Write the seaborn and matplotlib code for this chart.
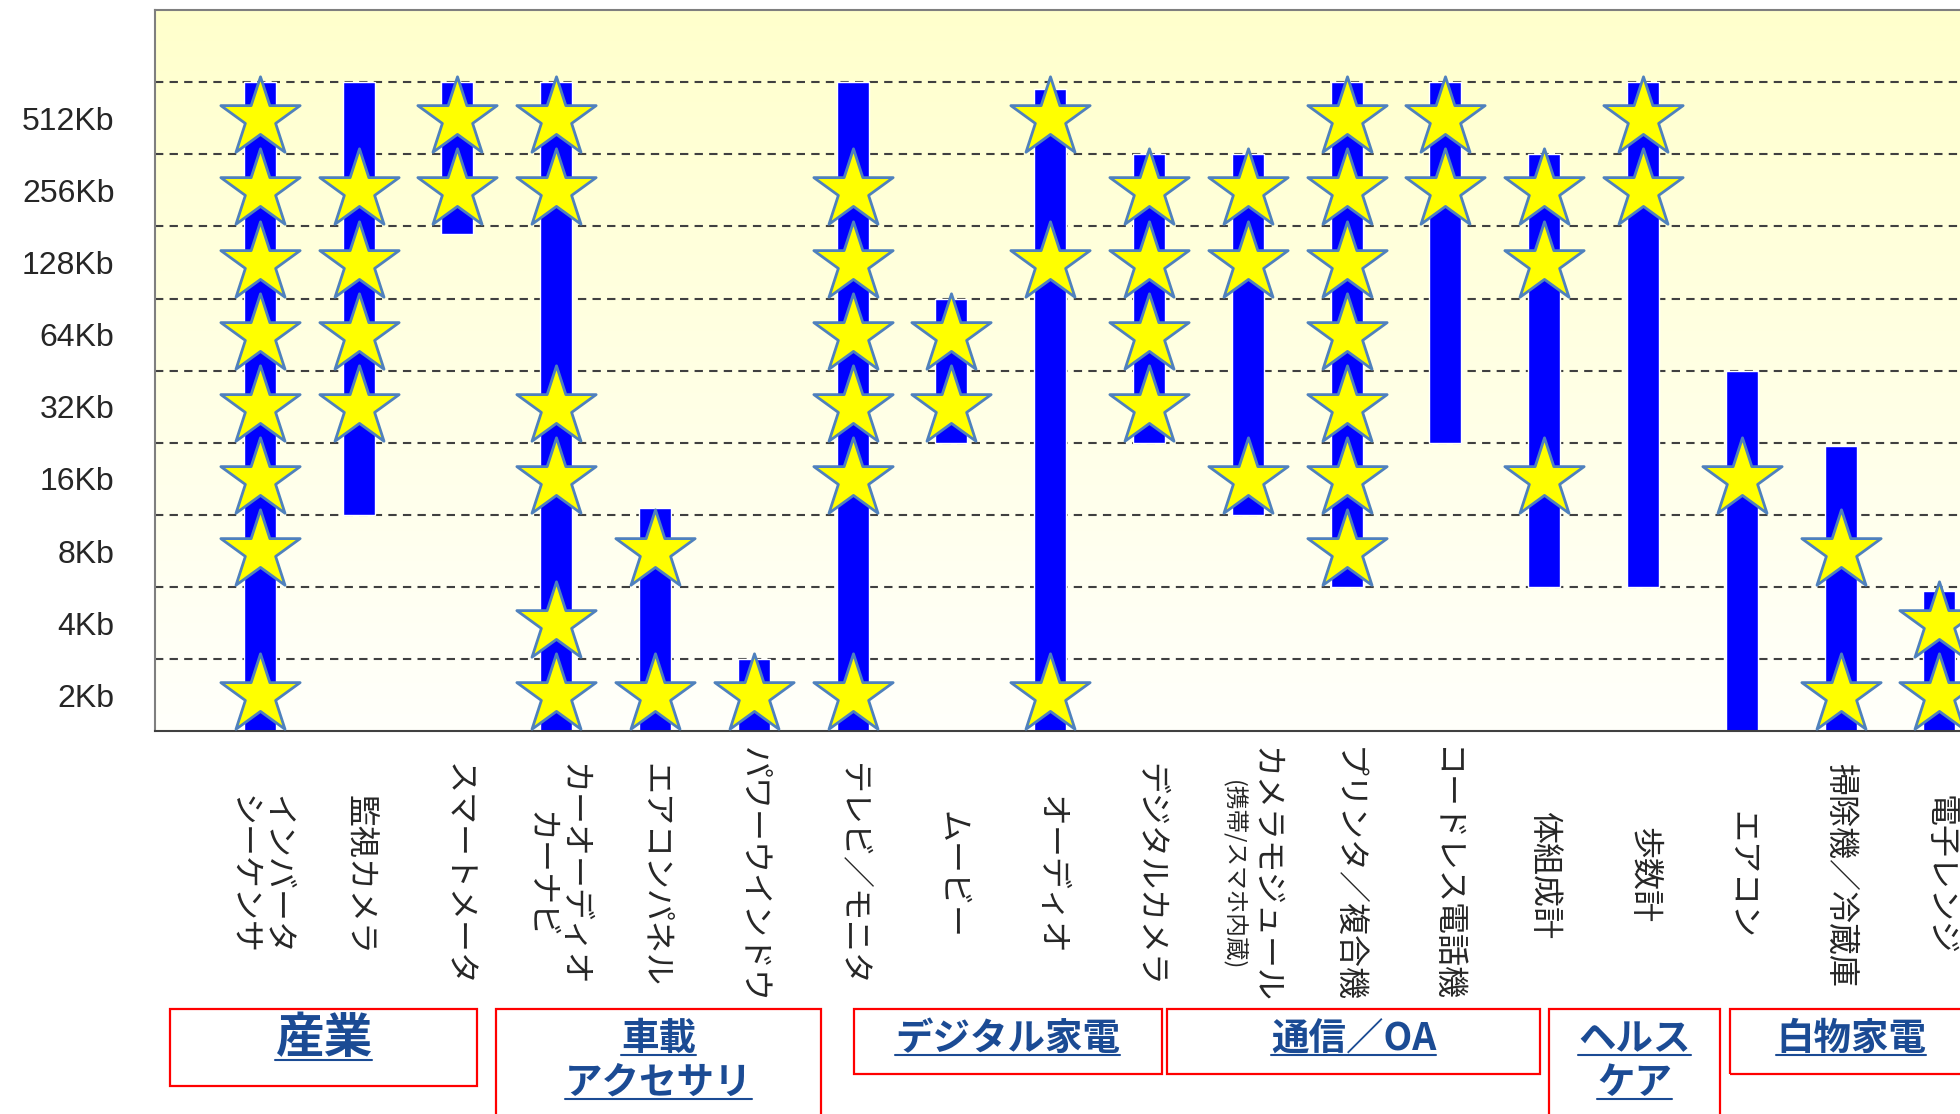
import numpy as np
import pandas as pd
import matplotlib
matplotlib.use("Agg")
import matplotlib.pyplot as plt
import matplotlib.transforms as mtransforms
from matplotlib.colors import LinearSegmentedColormap
from matplotlib.patches import Rectangle
from matplotlib.lines import Line2D
import seaborn as sns

# memory size bands, one per gridline step (band 0 = 2Kb)
size_labels = ["2Kb", "4Kb", "8Kb", "16Kb", "32Kb", "64Kb", "128Kb", "256Kb", "512Kb"]

categories = [
    "インバータ\nシーケンサ", "監視カメラ", "スマートメータ",
    "カーオーディオ\nカーナビ", "エアコンパネル", "パワーウインドウ",
    "テレビ／モニタ", "ムービー", "オーディオ", "デジタルカメラ",
    "カメラモジュール", "プリンタ／複合機", "コードレス電話機",
    "体組成計", "歩数計",
    "エアコン", "掃除機／冷蔵庫", "電子レンジ",
]
category_notes = {"カメラモジュール": "(携帯/スマホ内蔵)"}

# vertical range of each bar, in bands
range_low = [0, 3, 6.9, 0, 0, 0, 0, 4, 0, 4, 3, 2, 4, 2, 2, 0, 0, 0]
range_high = [9, 9, 9, 9, 3.1, 1, 9, 6, 8.9, 8, 8, 9, 9, 8, 9, 5, 3.95, 1.95]

# bands marked with a star for each category
star_bands = [
    [0, 2, 3, 4, 5, 6, 7, 8], [4, 5, 6, 7], [7, 8],
    [0, 1, 3, 4, 7, 8], [0, 2], [0],
    [0, 3, 4, 5, 6, 7], [4, 5], [0, 6, 8], [4, 5, 6, 7],
    [3, 6, 7], [2, 3, 4, 5, 6, 7, 8], [7, 8],
    [3, 6, 7], [7, 8],
    [3], [0, 2], [0, 1],
]

groups = ["産業", "車載\nアクセサリ", "デジタル家電", "通信／OA", "ヘルス\nケア", "白物家電"]

# layout of the group caption boxes (x in category slots, height in axes fraction)
box_edges = [(-0.91, 2.2), (2.39, 5.68), (6.01, 9.13), (9.18, 12.96), (13.05, 14.78), (14.88, 17.6)]
box_heights = [0.107, 0.2, 0.09, 0.09, 0.2, 0.09]
group_fontsizes = [35, 27, 27, 27, 27, 27]

sns.set_style("white")
plt.rcParams["font.family"] = ["Noto Sans CJK JP", "DejaVu Sans"]

fig = plt.figure(figsize=(19.6, 11.14), dpi=100)
xlim = (-1.063, 17.5)
ax = fig.add_axes([0.079, 0.3434, 0.9357, 0.6476])

# pale yellow background fading to white
bg = LinearSegmentedColormap.from_list("bg", ["#FFFFFB", "#FFFFCC"])
ax.imshow(np.linspace(0, 1, 256).reshape(-1, 1), cmap=bg, origin="lower",
          extent=[xlim[0], xlim[1], 0, 10], aspect="auto", zorder=0)

bars = pd.DataFrame({"device": categories, "low": range_low,
                     "span": np.subtract(range_high, range_low)})
sns.barplot(data=bars, x="device", y="span", bottom=bars["low"].to_numpy(),
            order=categories, color="#0000FF", saturation=1, width=0.324,
            errorbar=None, ax=ax, zorder=2)

stars = pd.DataFrame([(i, b + 0.5) for i, bands in enumerate(star_bands) for b in bands],
                     columns=["pos", "band"])
sns.scatterplot(data=stars, x="pos", y="band", marker="*", s=3600, color="#FFFF00",
                edgecolor="#4F81BD", linewidth=2, ax=ax, zorder=3, legend=False)

ax.set_xlim(*xlim)
ax.set_ylim(0, 10)
ax.set_xlabel("")
ax.set_ylabel("")
ax.set_yticks(np.arange(len(size_labels)) + 0.5)
ax.set_yticklabels(size_labels, fontsize=23, family="Liberation Sans")
ax.set_yticks(range(1, 10), minor=True)
ax.tick_params(axis="y", which="both", length=0, pad=29)
ax.tick_params(axis="x", length=0, labelbottom=False)
ax.grid(False)
ax.grid(axis="y", which="minor", linestyle=(0, (4, 3)), color="#404040", linewidth=1.5)
ax.set_axisbelow(True)

for side in ["left", "top"]:
    ax.spines[side].set_color("#7F7F7F")
    ax.spines[side].set_linewidth(1.5)
ax.spines["bottom"].set_color("#404040")
ax.spines["bottom"].set_linewidth(1.5)
ax.spines["right"].set_visible(False)

trans = mtransforms.blended_transform_factory(ax.transData, ax.transAxes)

# vertical device names under the axis
label_y = -0.199
for i, name in enumerate(categories):
    note = category_notes.get(name)
    if note:
        ax.text(i + 0.17, label_y, name, transform=trans, rotation=270, ha="center",
                va="center", fontsize=23, color="#262626", clip_on=False)
        ax.text(i - 0.14, label_y, note, transform=trans, rotation=270, ha="center",
                va="center", fontsize=17, color="#262626", clip_on=False)
    else:
        ax.text(i, label_y, name, transform=trans, rotation=270, ha="center",
                va="center", multialignment="center", fontsize=23, color="#262626",
                linespacing=1.05, clip_on=False)

# group boxes
box_top = -0.385
caption_texts = []
for name, (left, right), height, fs in zip(groups, box_edges, box_heights, group_fontsizes):
    ax.add_patch(Rectangle((left, box_top - height), right - left, height, transform=trans,
                           fill=False, edgecolor="#FF0000", linewidth=1.6, clip_on=False))
    cx = (left + min(right, 17.33)) / 2
    for k, line in enumerate(name.split("\n")):
        t = ax.text(cx, box_top - 0.041 - 0.06 * k, line, transform=trans,
                    ha="center", va="center", fontsize=fs, fontweight="bold",
                    color="#1B4B94", clip_on=False)
        caption_texts.append(t)

# underline captions
fig.canvas.draw()
renderer = fig.canvas.get_renderer()
to_fig = fig.transFigure.inverted()
for t in caption_texts:
    bb = t.get_window_extent(renderer)
    (x0, y0), (x1, _) = to_fig.transform([(bb.x0, bb.y0 + 3), (bb.x1, bb.y0 + 3)])
    fig.add_artist(Line2D([x0, x1], [y0, y0], transform=fig.transFigure,
                          color="#1B4B94", linewidth=1.5))

fig.savefig("out.png", dpi=100, facecolor="white")
